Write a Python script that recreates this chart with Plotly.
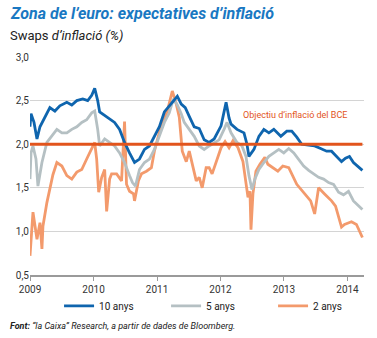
import plotly.graph_objects as go

# ---- data (decimal years, %)
y10_t = [2009.000, 2009.016, 2009.063, 2009.110, 2009.157, 2009.235, 2009.313, 2009.392, 2009.470, 2009.580,
         2009.658, 2009.737, 2009.831, 2009.909, 2009.972, 2010.019, 2010.066, 2010.097, 2010.176, 2010.254,
         2010.332, 2010.411, 2010.489, 2010.567, 2010.646, 2010.724, 2010.803, 2010.881, 2010.959, 2011.038,
         2011.116, 2011.194, 2011.273, 2011.320, 2011.382, 2011.445, 2011.508, 2011.586, 2011.665, 2011.743,
         2011.821, 2011.900, 2012.009, 2012.056, 2012.088, 2012.135, 2012.166, 2012.260, 2012.370, 2012.417,
         2012.448, 2012.527, 2012.605, 2012.683, 2012.762, 2012.840, 2012.950, 2013.044, 2013.122, 2013.201,
         2013.279, 2013.389, 2013.483, 2013.577, 2013.671, 2013.749, 2013.828, 2013.906, 2013.969, 2014.031,
         2014.094, 2014.172, 2014.235]
y10_v = [2.20, 2.35, 2.25, 2.06, 2.20, 2.32, 2.42, 2.38, 2.44, 2.48,
         2.45, 2.50, 2.52, 2.50, 2.56, 2.64, 2.50, 2.37, 2.33, 2.29,
         2.25, 2.17, 2.02, 1.90, 1.79, 1.83, 1.94, 1.98, 2.09, 2.20,
         2.37, 2.44, 2.52, 2.55, 2.46, 2.42, 2.32, 2.20, 2.18, 2.05,
         2.02, 2.06, 2.21, 2.35, 2.48, 2.30, 2.23, 2.17, 2.13, 2.00,
         1.86, 1.94, 2.09, 2.17, 2.13, 2.17, 2.09, 2.15, 2.15, 2.08,
         2.00, 1.99, 1.98, 1.95, 1.92, 1.92, 1.86, 1.80, 1.84, 1.86,
         1.79, 1.74, 1.70]

y5_t = [2009.000, 2009.016, 2009.047, 2009.094, 2009.125, 2009.188, 2009.266, 2009.345, 2009.423, 2009.502,
        2009.580, 2009.658, 2009.737, 2009.815, 2009.893, 2009.972, 2010.019, 2010.066, 2010.097, 2010.176,
        2010.254, 2010.332, 2010.411, 2010.489, 2010.567, 2010.614, 2010.661, 2010.724, 2010.803, 2010.881,
        2010.959, 2011.038, 2011.116, 2011.194, 2011.257, 2011.320, 2011.382, 2011.429, 2011.508, 2011.586,
        2011.665, 2011.743, 2011.821, 2011.900, 2011.978, 2012.056, 2012.103, 2012.166, 2012.260, 2012.339,
        2012.401, 2012.448, 2012.495, 2012.542, 2012.605, 2012.683, 2012.762, 2012.840, 2012.918, 2012.997,
        2013.075, 2013.154, 2013.232, 2013.310, 2013.389, 2013.467, 2013.545, 2013.624, 2013.702, 2013.781,
        2013.859, 2013.937, 2014.016, 2014.094, 2014.172, 2014.235]
y5_v = [1.60, 1.90, 1.98, 1.83, 1.52, 1.79, 2.02, 2.09, 2.17, 2.13,
        2.13, 2.17, 2.20, 2.25, 2.28, 2.36, 2.38, 2.17, 1.98, 2.06,
        2.02, 1.98, 1.90, 1.79, 1.64, 1.56, 1.52, 1.71, 1.79, 1.83,
        1.94, 2.09, 2.25, 2.36, 2.52, 2.45, 2.35, 2.25, 2.17, 2.09,
        1.98, 1.94, 1.98, 2.02, 2.05, 2.17, 2.25, 2.13, 2.02, 1.98,
        1.86, 1.64, 1.48, 1.60, 1.71, 1.79, 1.86, 1.90, 1.94, 1.90,
        1.95, 1.90, 1.82, 1.75, 1.70, 1.66, 1.62, 1.60, 1.56, 1.54,
        1.45, 1.42, 1.46, 1.35, 1.30, 1.25]

y2_t = [2009.000, 2009.031, 2009.047, 2009.110, 2009.157, 2009.188, 2009.204, 2009.266, 2009.313, 2009.361,
        2009.423, 2009.502, 2009.580, 2009.658, 2009.737, 2009.815, 2009.893, 2009.972, 2010.019, 2010.050,
        2010.082, 2010.129, 2010.176, 2010.207, 2010.254, 2010.285, 2010.364, 2010.442, 2010.489, 2010.520,
        2010.567, 2010.630, 2010.646, 2010.708, 2010.755, 2010.834, 2010.912, 2010.959, 2011.022, 2011.069,
        2011.163, 2011.241, 2011.304, 2011.351, 2011.398, 2011.461, 2011.508, 2011.555, 2011.618, 2011.665,
        2011.712, 2011.774, 2011.821, 2011.868, 2011.931, 2012.009, 2012.072, 2012.135, 2012.197, 2012.276,
        2012.354, 2012.401, 2012.433, 2012.464, 2012.480, 2012.511, 2012.558, 2012.621, 2012.699, 2012.746,
        2012.824, 2012.903, 2012.981, 2013.075, 2013.201, 2013.326, 2013.420, 2013.483, 2013.545, 2013.639,
        2013.749, 2013.812, 2013.859, 2013.906, 2013.953, 2014.016, 2014.063, 2014.141, 2014.188, 2014.235]
y2_v = [0.72, 1.06, 1.22, 0.91, 1.10, 0.80, 1.06, 1.33, 1.49, 1.65,
        1.79, 1.75, 1.64, 1.60, 1.68, 1.71, 1.83, 1.94, 2.02, 1.83,
        1.45, 1.62, 1.71, 1.23, 1.60, 1.66, 1.66, 1.58, 2.26, 1.54,
        1.46, 1.43, 1.35, 1.58, 1.66, 1.69, 1.73, 1.92, 2.11, 2.22,
        2.38, 2.61, 2.46, 2.31, 1.92, 1.80, 1.92, 1.77, 1.58, 1.62,
        1.50, 1.73, 1.73, 1.66, 1.80, 1.96, 2.03, 1.96, 2.04, 1.96,
        1.80, 1.54, 1.39, 1.46, 1.02, 1.43, 1.69, 1.77, 1.85, 1.77,
        1.73, 1.69, 1.75, 1.73, 1.54, 1.43, 1.35, 1.20, 1.50, 1.43,
        1.35, 1.29, 1.16, 1.05, 1.08, 1.10, 1.11, 1.08, 1.00, 0.93]

target_t = [2009.0, 2014.235]
target_v = [2.0, 2.0]

series_names = ["10 anys", "5 anys", "2 anys"]
series_colors = ["#0f65ae", "#b5c0c3", "#f39a6c"]
target_color = "#e2541c"
year_ticks = [2009, 2010, 2011, 2012, 2013, 2014]
y_ticks = [0.5, 1.0, 1.5, 2.0, 2.5, 3.0]

FONT = "Liberation Sans Narrow, Arial Narrow, Roboto, sans-serif"

fig = go.Figure()
for t, v, n, c in [(y2_t, y2_v, series_names[2], series_colors[2]),
                   (y5_t, y5_v, series_names[1], series_colors[1]),
                   (y10_t, y10_v, series_names[0], series_colors[0])]:
    fig.add_trace(go.Scatter(x=t, y=v, mode="lines", name=n,
                             line=dict(color=c, width=2.8)))
fig.add_trace(go.Scatter(x=target_t, y=target_v, mode="lines", showlegend=False,
                         line=dict(color=target_color, width=3), hoverinfo="skip"))

fig.update_layout(
    width=377, height=338,
    margin=dict(l=30, r=13, t=57, b=63, autoexpand=False),
    paper_bgcolor="white", plot_bgcolor="white",
    separators=",.",
    font=dict(family=FONT, size=10, color="#333"),
    showlegend=True,
    legend=dict(orientation="h", x=0.087, y=-0.142, xanchor="left", yanchor="middle",
                traceorder="reversed", itemwidth=30, entrywidth=62, entrywidthmode="pixels",
                font=dict(size=10, color="#222"), bgcolor="rgba(0,0,0,0)"),
    xaxis=dict(range=[2009, 2014.26], tickvals=year_ticks, ticktext=[str(y) for y in year_ticks],
               showgrid=False, zeroline=False, showline=True, linecolor="#9a9a9a", linewidth=1.5,
               ticks="outside", ticklen=4, tickcolor="#9a9a9a", tickfont=dict(size=10, color="#333")),
    yaxis=dict(range=[0.5, 3.0], tickvals=y_ticks, tickformat=".1f",
               showgrid=True, gridcolor="#d4d4d4", gridwidth=1, zeroline=False, showline=False,
               ticks="", tickfont=dict(size=10, color="#333")),
    annotations=[
        dict(text="<b><i>Zona de l’euro: expectatives d’inflació</i></b>", xref="paper", yref="paper",
             x=0, y=1.0, xshift=-22, yshift=44, xanchor="left", yanchor="middle", showarrow=False,
             font=dict(size=16, color="#1a78c2", family=FONT)),
        dict(text="Swaps <i>d’inflació (%)</i>", xref="paper", yref="paper",
             x=0, y=1.0, xshift=-22, yshift=22, xanchor="left", yanchor="middle", showarrow=False,
             font=dict(size=13, color="#222", family=FONT)),
        dict(text="Objectiu d’inflació del BCE", x=2013.18, y=2.33, xref="x", yref="y",
             showarrow=False, font=dict(size=9, color=target_color, family=FONT)),
        dict(text="<b><i>Font:</i></b><i> “la Caixa” Research, a partir de dades de Bloomberg.</i>",
             xref="paper", yref="paper", x=0, y=0, xshift=-22, yshift=-51, xanchor="left",
             yanchor="middle", showarrow=False, font=dict(size=9, color="#222", family=FONT)),
    ],
)

fig.write_html("out.html")
